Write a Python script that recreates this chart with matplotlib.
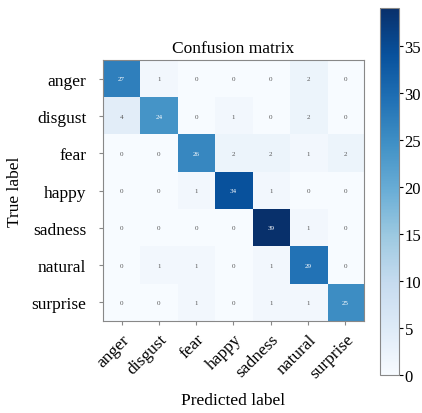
import matplotlib
matplotlib.use("Agg")
import matplotlib.pyplot as plt
import numpy as np

classes = ["anger", "disgust", "fear", "happy", "sadness", "natural", "surprise"]
row_anger    = [27, 1, 0, 0, 0, 2, 0]
row_disgust  = [4, 24, 0, 1, 0, 2, 0]
row_fear     = [0, 0, 26, 2, 2, 1, 2]
row_happy    = [0, 0, 1, 34, 1, 0, 0]
row_sadness  = [0, 0, 0, 0, 39, 1, 0]
row_natural  = [0, 1, 1, 0, 1, 29, 0]
row_surprise = [0, 0, 1, 0, 1, 1, 25]
cm = np.array([row_anger, row_disgust, row_fear, row_happy, row_sadness, row_natural, row_surprise])

plt.rcParams['font.family'] = ['Liberation Serif', 'DejaVu Serif']

fig = plt.figure(figsize=(4.22, 4.14), dpi=100)
ax = fig.add_axes([0.244, 0.222, 0.6185, 0.6304])
cax = fig.add_axes([0.9005, 0.092, 0.045, 0.886])

im = ax.imshow(cm, cmap='Blues', vmin=0, vmax=cm.max(), aspect='auto')
cb = fig.colorbar(im, cax=cax, ticks=[0, 5, 10, 15, 20, 25, 30, 35])
cb.ax.tick_params(labelsize=12, length=3, pad=1)
cb.outline.set_edgecolor('#888888')

thresh = cm.max() / 2.0
for i in range(cm.shape[0]):
    for j in range(cm.shape[1]):
        ax.text(j, i, str(cm[i, j]), ha='center', va='center', fontsize=5,
                color='white' if cm[i, j] > thresh else '#555555')

ax.set_xticks(range(len(classes)))
ax.set_yticks(range(len(classes)))
ax.set_xticklabels(classes, rotation=45, ha='right', rotation_mode='anchor', fontsize=12.5)
ax.set_yticklabels(classes, fontsize=12.5)
ax.tick_params(axis='y', length=3, color='#888888', pad=9)
ax.tick_params(axis='x', length=3, color='#888888', pad=4)
for s in ax.spines.values():
    s.set_edgecolor('#888888')
ax.set_title('Confusion matrix', fontsize=12.5, pad=6)
ax.set_ylabel('True label', fontsize=12.5, labelpad=6)
ax.set_xlabel('Predicted label', fontsize=12.5, labelpad=8)

fig.savefig('out.png', dpi=100)
